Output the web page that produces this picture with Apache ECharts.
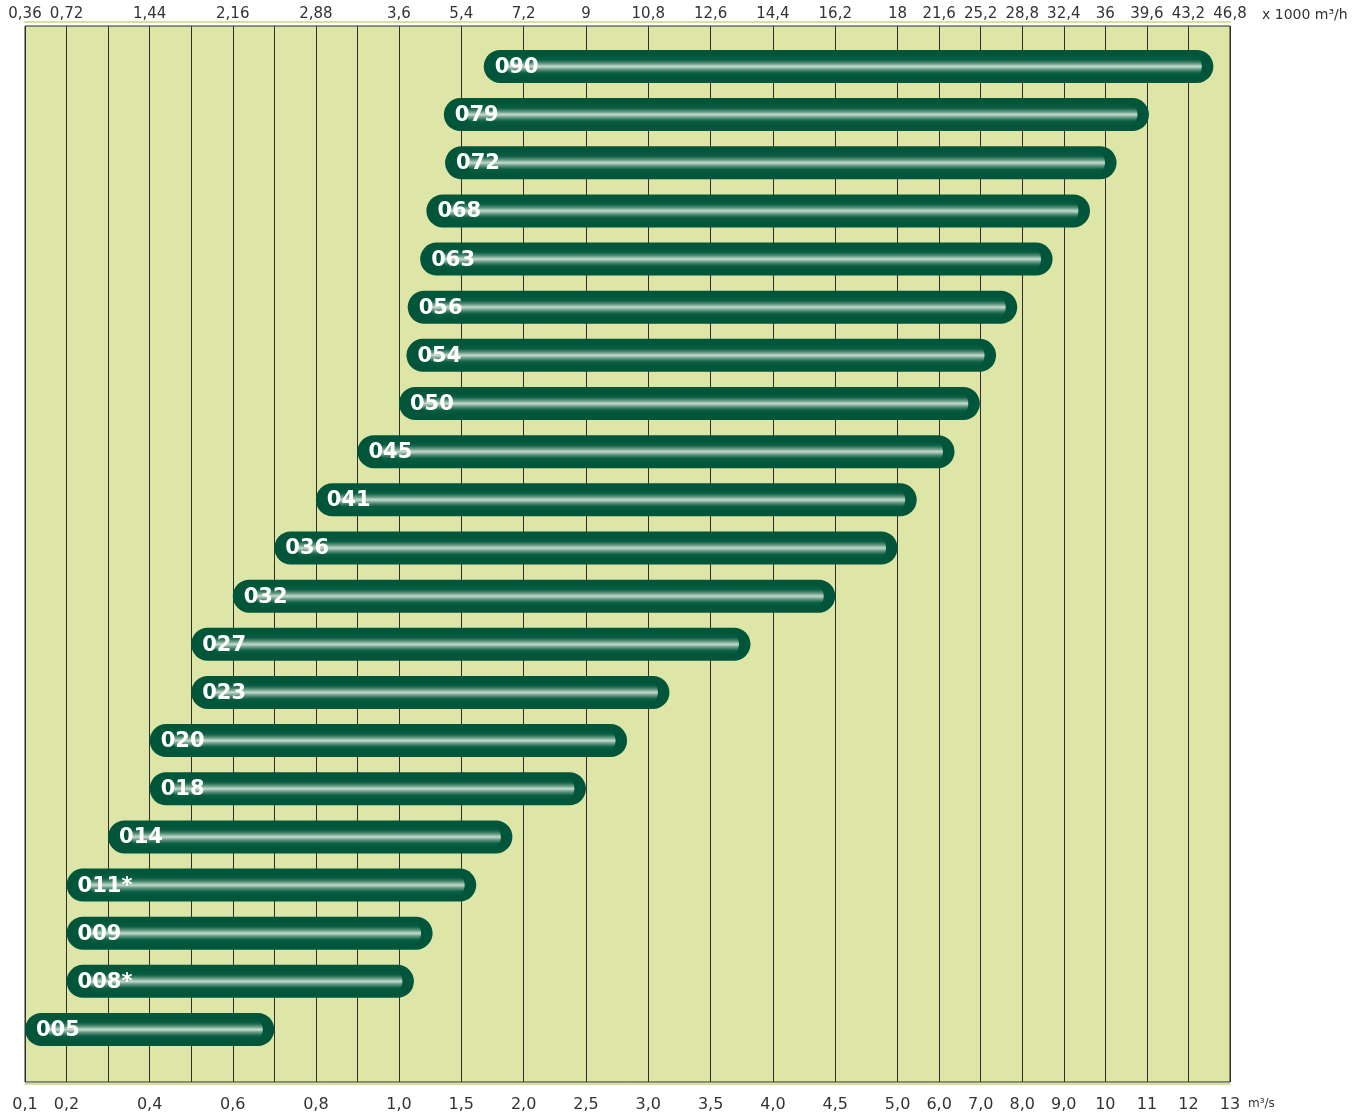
<!DOCTYPE html>
<html>
<head>
<meta charset="utf-8">
<script src="https://cdn.jsdelivr.net/npm/echarts@6/dist/echarts.min.js"></script>
<style>
  html, body { margin: 0; padding: 0; background: #fff; }
  #chart { width: 1371px; height: 1117px; }
</style>
</head>
<body>
<div id="chart"></div>
<script>
// fan sizes, top to bottom
const models = ['090', '079', '072', '068', '063', '056', '054', '050', '045', '041', '036',
  '032', '027', '023', '020', '018', '014', '011*', '009', '008*', '005'];
// flow range in m3/s
const flowFrom = [1.68, 1.36, 1.37, 1.22, 1.17, 1.07, 1.06, 1.0, 0.9, 0.8, 0.7,
  0.6, 0.5, 0.5, 0.4, 0.4, 0.3, 0.2, 0.2, 0.2, 0.1];
const flowTo = [12.6, 11.05, 10.27, 9.63, 8.73, 7.88, 7.37, 6.98, 6.37, 5.46, 5.0,
  4.5, 3.82, 3.17, 2.83, 2.5, 1.91, 1.62, 1.27, 1.12, 0.7];
// vertical grid lines and labelled ticks (m3/s)
const gridTicks = [0.1, 0.2, 0.3, 0.4, 0.5, 0.6, 0.7, 0.8, 0.9, 1.0, 1.5, 2.0, 2.5, 3.0, 3.5,
  4.0, 4.5, 5.0, 6, 7, 8, 9, 10, 11, 12, 13];
const labelTicks = [0.1, 0.2, 0.4, 0.6, 0.8, 1.0, 1.5, 2.0, 2.5, 3.0, 3.5, 4.0, 4.5, 5.0,
  6, 7, 8, 9, 10, 11, 12, 13];

// the scale is stretched piecewise: 0.1 steps up to 1, 0.5 steps up to 5, then 1 steps
const pos = v => v <= 1 ? (v - 0.1) * 10 : v <= 5 ? 9 + (v - 1) * 3 : 21 + (v - 5);
const inv = p => p <= 9.0001 ? 0.1 + p / 10 : p <= 21.0001 ? 1 + (p - 9) / 3 : 5 + (p - 21);

const fmtS = p => {
  const v = inv(p);
  return v >= 9.99 ? String(Math.round(v)) : v.toFixed(1).replace('.', ',');
};
const fmtH = p => String(Number((inv(p) * 3.6).toFixed(2))).replace('.', ',');

const chart = echarts.init(document.getElementById('chart'));
const txt = { color: '#333', fontFamily: 'DejaVu Sans' };

const option = {
  animation: false,
  grid: {
    left: 25, right: 141, top: 26, bottom: 35,
    show: true, backgroundColor: '#dde6a6', borderColor: '#2a2a2a', borderWidth: 1
  },
  xAxis: [{
    type: 'value', min: 0, max: 29, position: 'bottom', offset: 2,
    axisLine: { show: true, onZero: false, lineStyle: { color: '#d6e19c', width: 2 } },
    axisTick: { show: false, customValues: gridTicks.map(pos) },
    splitLine: { show: true, lineStyle: { color: '#2e2e2e', width: 1 } },
    axisLabel: Object.assign({ customValues: labelTicks.map(pos), formatter: fmtS, margin: 13, fontSize: 16 }, txt),
    name: 'm³/s', nameLocation: 'end', nameGap: 18,
    nameTextStyle: { color: '#333', fontSize: 12, fontFamily: 'DejaVu Sans', verticalAlign: 'top', padding: [14, 0, 0, 0] }
  }, {
    type: 'value', min: 0, max: 29, position: 'top', offset: 4,
    axisLine: { show: true, onZero: false, lineStyle: { color: '#d6e19c', width: 2 } },
    axisTick: { show: false },
    splitLine: { show: false },
    axisLabel: Object.assign({ customValues: labelTicks.map(pos), formatter: fmtH, margin: 0, fontSize: 15 }, txt),
    name: 'x 1000 m³/h', nameLocation: 'end', nameGap: 32,
    nameTextStyle: { color: '#333', fontSize: 14, fontFamily: 'DejaVu Sans', verticalAlign: 'bottom', padding: [0, 0, 0, 0] }
  }],
  yAxis: {
    type: 'value', inverse: true, min: -0.84, max: 21.09, show: false
  },
  series: [{
    type: 'custom',
    xAxisIndex: 0,
    clip: false,
    encode: { x: [0, 1], y: 2 },
    data: models.map((m, i) => [pos(flowFrom[i]), pos(flowTo[i]), i]),
    renderItem: (params, api) => {
      const row = api.value(2);
      const a = api.coord([api.value(0), row]);
      const b = api.coord([api.value(1), row]);
      const h = 33;
      const w = b[0] - a[0];
      const sh = h - 6;
      return {
        type: 'group',
        children: [{
          type: 'rect',
          shape: { x: a[0], y: a[1] - h / 2, width: w, height: h, r: h / 2 },
          style: { fill: '#00553b' }
        }, {
          type: 'rect',
          shape: { x: a[0] + h * 0.7, y: a[1] - sh / 2, width: w - h * 1.05, height: sh, r: sh / 2 },
          style: {
            fill: new echarts.graphic.LinearGradient(0, 0, 0, 1, [
              { offset: 0, color: 'rgba(0,85,59,0)' },
              { offset: 0.25, color: 'rgba(20,100,72,0.6)' },
              { offset: 0.44, color: '#8fb6a3' },
              { offset: 0.5, color: '#c4dacd' },
              { offset: 0.56, color: '#8fb6a3' },
              { offset: 0.75, color: 'rgba(20,100,72,0.6)' },
              { offset: 1, color: 'rgba(0,85,59,0)' }
            ])
          }
        }, {
          type: 'text',
          style: {
            x: a[0] + 11, y: a[1] + 1,
            text: models[params.dataIndex],
            fill: '#fff',
            font: 'bold 21px "DejaVu Sans"',
            verticalAlign: 'middle'
          }
        }]
      };
    }
  }]
};
chart.setOption(option);
</script>
</body>
</html>
